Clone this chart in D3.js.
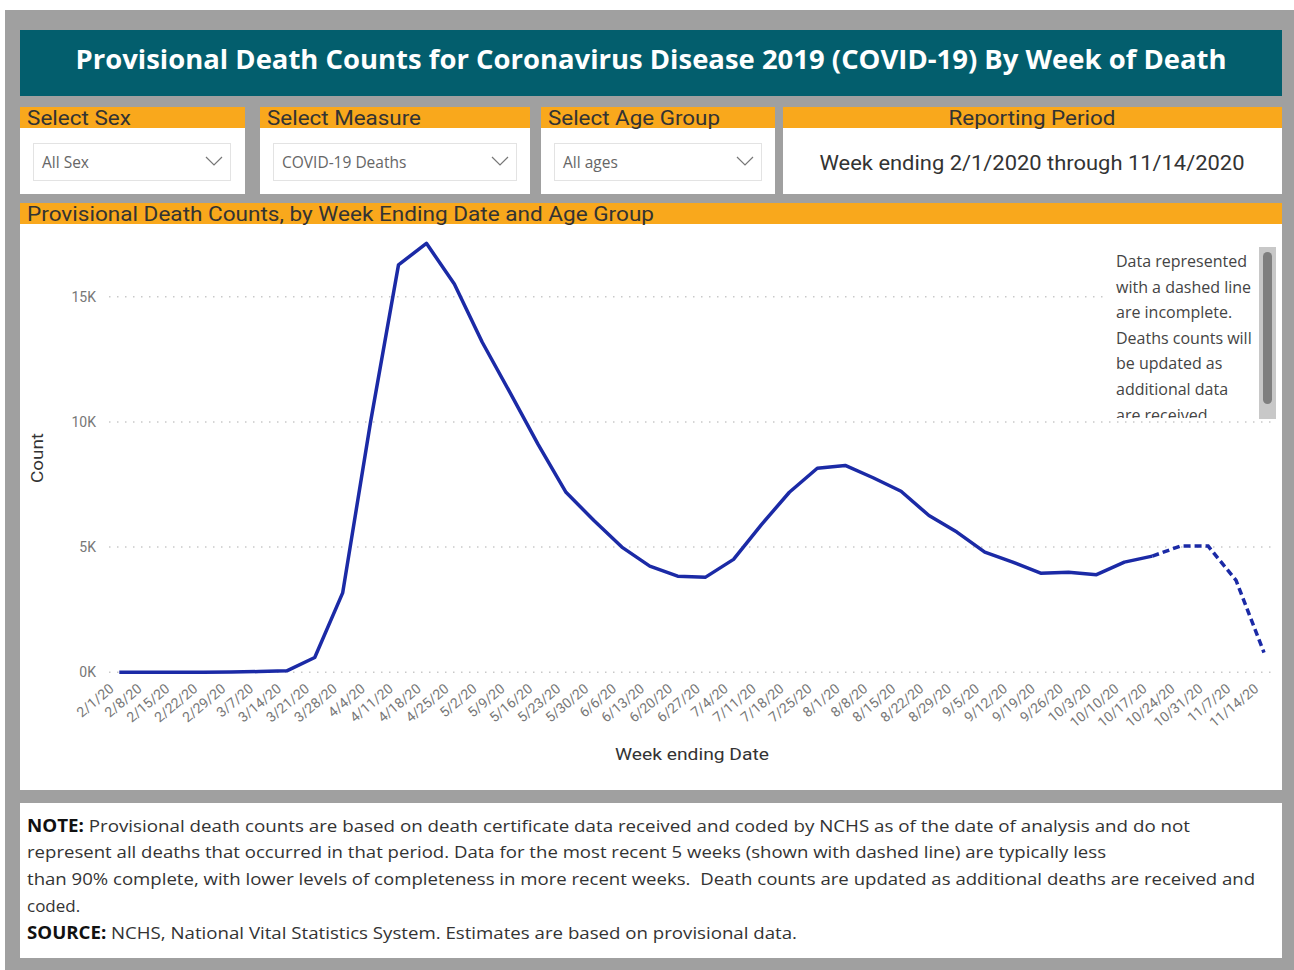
<!DOCTYPE html>
<html>
<head>
<meta charset="utf-8">
<script src="https://cdn.jsdelivr.net/npm/d3@7"></script>
<style>
  body { margin: 0; background: #fff; }
</style>
</head>
<body>
<div id="container"></div>
<script>
// week ending dates (x axis categories)
const weeks = ["2/1/20","2/8/20","2/15/20","2/22/20","2/29/20","3/7/20","3/14/20","3/21/20","3/28/20",
  "4/4/20","4/11/20","4/18/20","4/25/20","5/2/20","5/9/20","5/16/20","5/23/20","5/30/20","6/6/20",
  "6/13/20","6/20/20","6/27/20","7/4/20","7/11/20","7/18/20","7/25/20","8/1/20","8/8/20","8/15/20",
  "8/22/20","8/29/20","9/5/20","9/12/20","9/19/20","9/26/20","10/3/20","10/10/20","10/17/20",
  "10/24/20","10/31/20","11/7/20","11/14/20"]
// COVID-19 deaths, all sexes, all ages
const deaths = [0, 1, 2, 5, 10, 30, 60, 590, 3170, 10000, 16270, 17130, 15510, 13180, 11160, 9100,
  7190, 6060, 5000, 4240, 3840, 3800, 4510, 5900, 7190, 8150, 8260, 7770, 7230, 6260, 5600, 4800,
  4400, 3960, 4000, 3900, 4400, 4640, 5040, 5040, 3670, 790]
// last complete week, the rest is drawn dashed
const incompleteFrom = "10/17/20"
const yTicks = [0, 5000, 10000, 15000]

const filters = [
  {title: "Select Sex", value: "All Sex"},
  {title: "Select Measure", value: "COVID-19 Deaths"},
  {title: "Select Age Group", value: "All ages"}
]
const titleText = "Provisional Death Counts for Coronavirus Disease 2019 (COVID-19) By Week of Death"
const periodText = "Week ending 2/1/2020 through 11/14/2020"
const chartTitle = "Provisional Death Counts, by Week Ending Date and Age Group"
const noteLines = [
  ["NOTE:", " Provisional death counts are based on death certificate data received and coded by NCHS as of the date of analysis and do not"],
  ["", "represent all deaths that occurred in that period. Data for the most recent 5 weeks (shown with dashed line) are typically less"],
  ["", "than 90% complete, with lower levels of completeness in more recent weeks.\u00a0 Death counts are updated as additional deaths are received and"],
  ["", "coded."],
  ["SOURCE:", " NCHS, National Vital Statistics System. Estimates are based on provisional data."]
]
const boxLines = ["Data represented", "with a dashed line", "are incomplete.", "Deaths counts will",
  "be updated as", "additional data", "are received"]

const orange = "#f9a81c"
const teal = "#035e6d"
const lineColor = "#1b2aa6"
const din = "Roboto, 'Liberation Sans', sans-serif"
const segoe = "'Open Sans', 'Noto Sans', sans-serif"

const svg = d3.select("#container").append("svg")
  .attr("width", 1294)
  .attr("height", 970)

// squeeze text to a given width (DIN / Segoe are narrower than what we have)
function squeeze(sel, w) {
  sel.attr("textLength", w).attr("lengthAdjust", "spacingAndGlyphs")
  return sel
}

// page background
svg.append("rect").attr("x", 5).attr("y", 10).attr("width", 1289).attr("height", 960).attr("fill", "#a0a0a0")

// title band
svg.append("rect").attr("x", 20).attr("y", 30).attr("width", 1262).attr("height", 66).attr("fill", teal)
squeeze(svg.append("text")
  .attr("x", 651).attr("y", 69)
  .attr("text-anchor", "middle")
  .attr("font-family", segoe).attr("font-weight", 700).attr("font-size", 27)
  .attr("fill", "#fff")
  .text(titleText), 1151)

// filter panels
const panels = [
  {x: 20, w: 225, dd: [33, 230], tw: 104},
  {x: 260, w: 270, dd: [273, 516], tw: 154},
  {x: 541, w: 234, dd: [554, 761], tw: 172}
]
panels.forEach((p, i) => {
  svg.append("rect").attr("x", p.x).attr("y", 107).attr("width", p.w).attr("height", 87).attr("fill", "#fff")
  svg.append("rect").attr("x", p.x).attr("y", 107).attr("width", p.w).attr("height", 21).attr("fill", orange)
  squeeze(svg.append("text").attr("x", p.x + 7).attr("y", 124.5)
    .attr("font-family", din).attr("font-size", 20).attr("fill", "#333")
    .text(filters[i].title), p.tw)
  svg.append("rect").attr("x", p.dd[0] + 0.5).attr("y", 143.5)
    .attr("width", p.dd[1] - p.dd[0]).attr("height", 37)
    .attr("fill", "#fff").attr("stroke", "#e3e3e3")
  svg.append("text").attr("x", p.dd[0] + 9).attr("y", 168)
    .attr("font-family", segoe).attr("font-size", 15.5).attr("fill", "#666")
    .text(filters[i].value)
  const cx = p.dd[1] - 16
  svg.append("polyline")
    .attr("points", `${cx - 8},157 ${cx},165 ${cx + 8},157`)
    .attr("fill", "none").attr("stroke", "#777").attr("stroke-width", 1.2)
})

// reporting period panel
svg.append("rect").attr("x", 783).attr("y", 107).attr("width", 499).attr("height", 87).attr("fill", "#fff")
svg.append("rect").attr("x", 783).attr("y", 107).attr("width", 499).attr("height", 21).attr("fill", orange)
squeeze(svg.append("text").attr("x", 1032).attr("y", 124.5).attr("text-anchor", "middle")
  .attr("font-family", din).attr("font-size", 20).attr("fill", "#333")
  .text("Reporting Period"), 167)
squeeze(svg.append("text").attr("x", 1032).attr("y", 170).attr("text-anchor", "middle")
  .attr("font-family", din).attr("font-size", 21).attr("fill", "#333")
  .text(periodText), 425)

// chart panel
svg.append("rect").attr("x", 20).attr("y", 203).attr("width", 1262).attr("height", 587).attr("fill", "#fff")
svg.append("rect").attr("x", 20).attr("y", 203).attr("width", 1262).attr("height", 21).attr("fill", orange)
squeeze(svg.append("text").attr("x", 27).attr("y", 220.5)
  .attr("font-family", din).attr("font-size", 20).attr("fill", "#333")
  .text(chartTitle), 627)

// scales
const xScale = d3.scalePoint()
  .domain(weeks)
  .range([119.3, 1264])
const yScale = d3.scaleLinear()
  .domain([0, 15000])
  .range([672.3, 296.7])

// dotted grid lines
svg.selectAll(".grid-line")
  .data(yTicks)
  .join("line")
  .attr("class", "grid-line")
  .attr("x1", 109).attr("x2", 1276)
  .attr("y1", d => yScale(d)).attr("y2", d => yScale(d))
  .attr("stroke", "#c9c9c9")
  .attr("stroke-width", 1.5)
  .attr("stroke-dasharray", "1.5,6.5")

// y axis
const yAxis = d3.axisLeft(yScale)
  .tickValues(yTicks)
  .tickSize(0)
  .tickPadding(12)
  .tickFormat(d => d / 1000 + "K")
const gy = svg.append("g")
  .attr("transform", "translate(108, 0)")
  .call(yAxis)
gy.select(".domain").remove()
gy.selectAll("text").attr("font-family", din).attr("font-size", 14).attr("fill", "#777")

// x axis
const xAxis = d3.axisBottom(xScale).tickSize(0)
const gx = svg.append("g")
  .attr("transform", "translate(0, 672.3)")
  .call(xAxis)
gx.select(".domain").remove()
gx.selectAll("text")
  .attr("font-family", din).attr("font-size", 14).attr("fill", "#777")
  .attr("text-anchor", "end")
  .attr("dy", 0).attr("y", 0)
  .attr("transform", "translate(-5, 18) rotate(-40)")

// axis titles
squeeze(svg.append("text")
  .attr("transform", "translate(43, 458) rotate(-90)")
  .attr("text-anchor", "middle")
  .attr("font-family", din).attr("font-size", 17).attr("fill", "#333")
  .text("Count"), 50)
squeeze(svg.append("text")
  .attr("x", 692).attr("y", 760)
  .attr("text-anchor", "middle")
  .attr("font-family", din).attr("font-size", 17).attr("fill", "#333")
  .text("Week ending Date"), 154)

// line, solid then dashed for the incomplete weeks
const rows = weeks.map((w, i) => ({week: w, value: deaths[i]}))
const cut = weeks.indexOf(incompleteFrom)
const line = d3.line()
  .x(d => xScale(d.week))
  .y(d => yScale(d.value))
svg.append("path")
  .datum(rows.slice(0, cut + 1))
  .attr("d", line)
  .attr("fill", "none")
  .attr("stroke", lineColor)
  .attr("stroke-width", 3.5)
  .attr("stroke-linejoin", "round")
svg.append("path")
  .datum(rows.slice(cut))
  .attr("d", line)
  .attr("fill", "none")
  .attr("stroke", lineColor)
  .attr("stroke-width", 3.5)
  .attr("stroke-dasharray", "7,4")

// text box with scrollbar
svg.append("clipPath").attr("id", "boxclip")
  .append("rect").attr("x", 1105).attr("y", 247).attr("width", 154).attr("height", 171)
svg.append("rect").attr("x", 1105).attr("y", 247).attr("width", 171).attr("height", 172).attr("fill", "#fff")
svg.append("g").attr("clip-path", "url(#boxclip)")
  .selectAll("text")
  .data(boxLines)
  .join("text")
  .attr("x", 1116)
  .attr("y", (d, i) => 267 + i * 25.6)
  .attr("font-family", segoe).attr("font-size", 16).attr("fill", "#444")
  .text(d => d)
svg.append("rect").attr("x", 1259).attr("y", 247).attr("width", 17).attr("height", 172).attr("fill", "#c8c8c8")
svg.append("rect").attr("x", 1263).attr("y", 252).attr("width", 9).attr("height", 152).attr("rx", 4.5).attr("fill", "#7f7f7f")

// note panel
svg.append("rect").attr("x", 20).attr("y", 803).attr("width", 1262).attr("height", 155).attr("fill", "#fff")
const noteWidths = [1163, 1079, 1228, null, 770]
noteLines.forEach((l, i) => {
  const t = svg.append("text")
    .attr("x", 27).attr("y", 831.5 + i * 26.8)
    .attr("font-family", segoe).attr("font-size", 17).attr("fill", "#333")
  t.append("tspan").attr("font-weight", 700).attr("fill", "#111").text(l[0])
  t.append("tspan").text(l[1])
  if (noteWidths[i]) squeeze(t, noteWidths[i])
})
</script>
</body>
</html>
